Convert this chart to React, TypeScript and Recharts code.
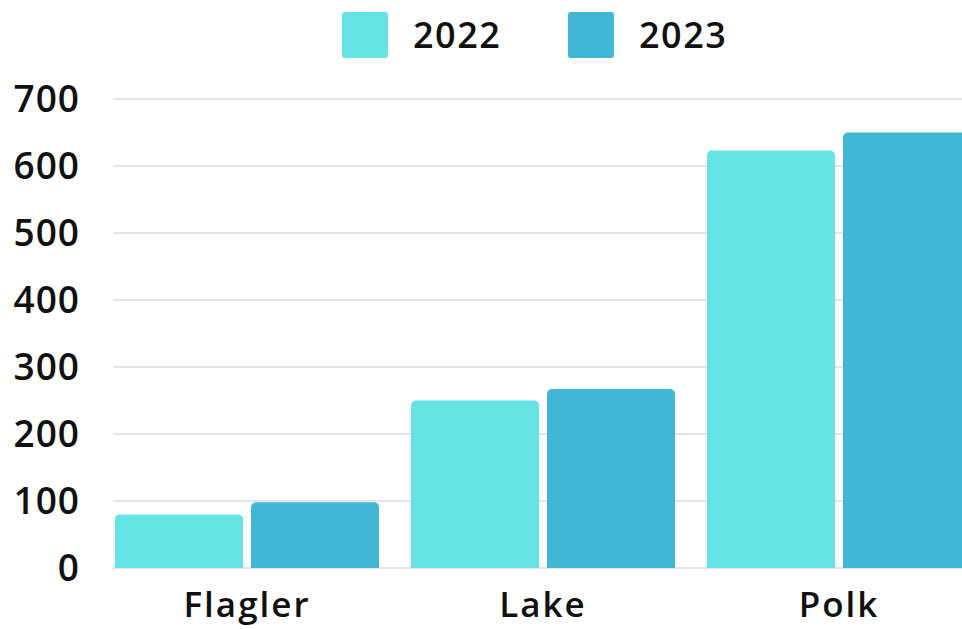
import React from 'react';
import { BarChart, Bar, XAxis, YAxis, CartesianGrid, Legend } from 'recharts';

const counties = ['Flagler', 'Lake', 'Polk'];
const values2022 = [80, 250, 623];
const values2023 = [98, 267, 650];
const yTicks = [0, 100, 200, 300, 400, 500, 600, 700];

const data = counties.map((name, i) => ({ name, y2022: values2022[i], y2023: values2023[i] }));

const COLOR_2022 = '#66E3E4';
const COLOR_2023 = '#42B7D5';
const FONT = '"Open Sans", Lato, sans-serif';

const legendItems = [
  { label: '2022', color: COLOR_2022, left: 342 },
  { label: '2023', color: COLOR_2023, left: 568 },
];

const LegendContent = () => (
  <div style={{ position: 'relative', height: 99, width: 1000, fontFamily: FONT }}>
    {legendItems.map((it) => (
      <div key={it.label} style={{ position: 'absolute', left: it.left, top: 12, display: 'flex', alignItems: 'center' }}>
        <div style={{ width: 46, height: 46, background: it.color, borderRadius: 3, marginRight: 25 }} />
        <span style={{ fontSize: 36, fontWeight: 600, color: '#111', lineHeight: '46px', letterSpacing: 1.5 }}>{it.label}</span>
      </div>
    ))}
  </div>
);

const gridLine = (p: any) => (
  <line
    key={p.key ?? `h-${p.index}`}
    x1={p.x1 + 14}
    y1={p.y1}
    x2={p.x2}
    y2={p.y2}
    stroke="#dcdcdc"
    strokeWidth={1.5}
  />
);

export default function App() {
  return (
    <div style={{ position: 'absolute', left: 0, top: 0, width: 962, height: 629, overflow: 'hidden', background: '#fff' }}>
      <BarChart
        width={1000}
        height={629}
        data={data}
        margin={{ top: 0, right: 13, bottom: 0, left: 0 }}
        barSize={128}
        barGap={8}
      >
        <Legend verticalAlign="top" align="left" content={<LegendContent />} wrapperStyle={{ left: 0, top: 0, width: 1000 }} />
        <CartesianGrid vertical={false} horizontal={gridLine} />
        <XAxis
          dataKey="name"
          axisLine={false}
          tickLine={false}
          height={61}
          tickMargin={18}
          tick={{ fontSize: 35, fontWeight: 600, fill: '#111', fontFamily: FONT, letterSpacing: 2 }}
        />
        <YAxis
          domain={[0, 700]}
          ticks={yTicks}
          width={99}
          axisLine={false}
          tickLine={false}
          tickMargin={13}
          interval={0}
          tick={{ fontSize: 37, fontWeight: 600, fill: '#111', fontFamily: FONT, letterSpacing: 1 }}
        />
        <Bar dataKey="y2022" name="2022" fill={COLOR_2022} radius={[5, 5, 0, 0]} isAnimationActive={false} />
        <Bar dataKey="y2023" name="2023" fill={COLOR_2023} radius={[5, 5, 0, 0]} isAnimationActive={false} />
      </BarChart>
    </div>
  );
}
